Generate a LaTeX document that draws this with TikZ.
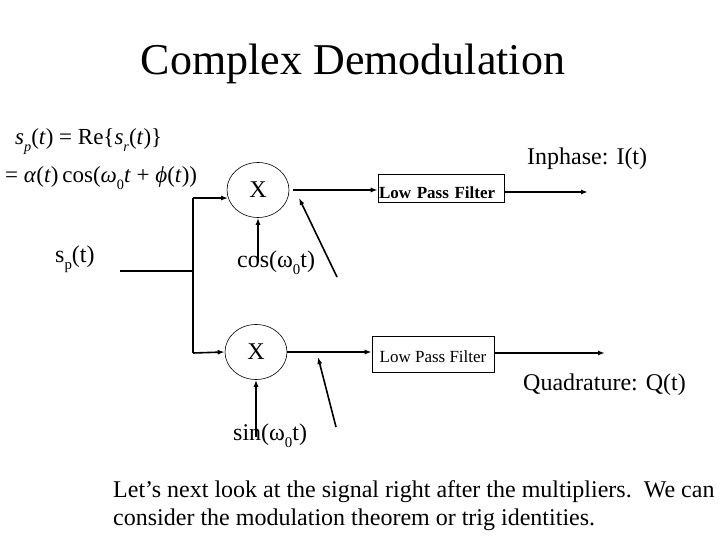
\documentclass[tikz,border=0pt]{standalone}
\usepackage{fontspec}
\usepackage{graphicx}
\setmainfont{Liberation Serif}
\usetikzlibrary{arrows.meta,shapes.geometric}
\newcommand{\dnsub}[1]{\raisebox{-0.3em}{\scalebox{0.62}{#1}}}
\begin{document}
\begin{tikzpicture}[x=1pt,y=-1pt,
  conn/.style={line width=1.6pt,-{Latex[length=7pt,width=5pt]}},
  wire/.style={line width=1.6pt},
  mult/.style={draw,ellipse,line width=0.6pt,minimum width=62pt,minimum height=55pt,inner sep=0pt,font=\fontsize{24}{28}\selectfont},
  lpfbox/.style={draw,rectangle,line width=0.6pt,inner ysep=0pt},
  lbl/.style={inner sep=0pt,anchor=base west},
  big/.style={font=\fontsize{24}{28}\selectfont}]
\useasboundingbox[fill=white] (0,0) rectangle (720,540);

\node[inner sep=0pt,anchor=base,font=\fontsize{44}{50}\selectfont] (title) at (353,75) {Complex Demodulation};

\node[lbl,font=\fontsize{23}{26}\selectfont] (eq1) at (15,145)
  {\textit{s}\dnsub{\textit{p}}(\textit{t}) = Re\{\textit{s}\dnsub{\textit{r}}(\textit{t})\}};
\node[lbl,font=\fontsize{23}{26}\selectfont] (eq2) at (5,183)
  {= \textit{α}(\textit{t})\,cos(\textit{ω}\dnsub{0}\textit{t} + \textit{ϕ}(\textit{t}))};

\node[lbl,big] (sp) at (55,262) {s\dnsub{p}(t)};
\node[lbl,big] (inph) at (527,165) {Inphase: I(t)};
\node[lbl,big] (quad) at (523,390) {Quadrature: Q(t)};
\node[lbl,big] (cosl) at (237,267) {cos(ω\dnsub{0}t)};
\node[lbl,big] (sinl) at (233,440) {sin(ω\dnsub{0}t)};

\node[mult] (mulI) at (258,190) {X};
\node[mult] (mulQ) at (256,352) {X};

\node[lpfbox,minimum width=126pt,inner xsep=1pt,text width=124pt,align=left,
  text height=25pt,text depth=3pt,font=\fontsize{17}{20}\selectfont\bfseries] (lpfI) at (441,188) {Low Pass Filter};
\node[lpfbox,minimum width=122pt,minimum height=36pt,text height=19pt,text depth=3pt,
  font=\fontsize{17}{20}\selectfont] (lpfQ) at (433,354) {Low Pass Filter};

\coordinate (inL) at (120,271);
\coordinate (inR) at (193,271);
\coordinate (splitT) at (193,198);
\coordinate (splitB) at (193,353);
\coordinate (outI) at (588,192);
\coordinate (outQ) at (605,353);
\coordinate (cosTip) at (258,262);
\coordinate (sinTip) at (256,437);
\coordinate (ptrIa) at (337,277);
\coordinate (ptrIb) at (299,198);
\coordinate (ptrQa) at (336,427);
\coordinate (ptrQb) at (318,357);

\draw[wire] (inL) -- (inR);
\draw[wire] (splitT) -- (splitB);
\draw[conn] (splitT) -- (mulI.195);
\draw[conn] (splitB) -- (mulQ.west);
\draw[conn] ([xshift=4pt]mulI.east) -- (lpfI.west |- mulI.east);
\draw[conn] (lpfI.east |- outI) -- (outI);
\draw[conn] (mulQ.east) -- (lpfQ.west |- mulQ.east);
\draw[conn] (lpfQ.east |- outQ) -- (outQ);
\draw[conn] (cosTip) -- (mulI.south);
\draw[conn] (sinTip) -- (mulQ.south);
\draw[conn] (ptrIa) -- (ptrIb);
\draw[conn] (ptrQa) -- (ptrQb);

\node[lbl,big] (note1) at (113,497) {Let’s next look at the signal right after the multipliers.\ \ We can};
\node[lbl,big] (note2) at (113,525) {consider the modulation theorem or trig identities.};
\end{tikzpicture}
\end{document}
